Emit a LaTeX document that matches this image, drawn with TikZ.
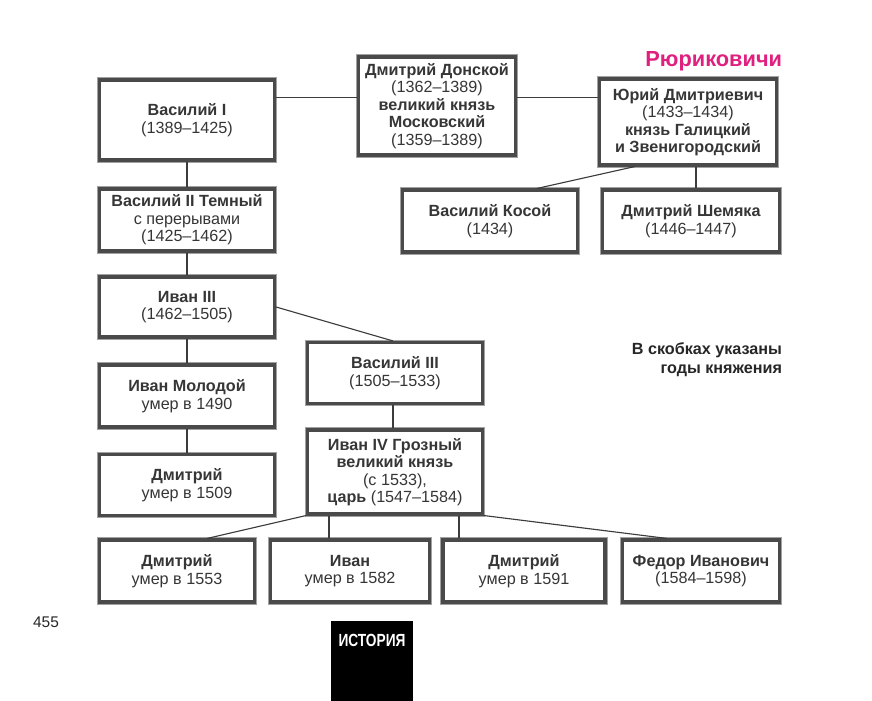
\documentclass[tikz,border=0pt]{standalone}
\usepackage{fontspec}
\setmainfont{Liberation Sans}
\usepackage{xcolor}
\usepackage{tikz}
\usetikzlibrary{arrows.meta,positioning,calc}
\definecolor{ink}{HTML}{363636}
\definecolor{frame}{HTML}{4A4A4A}
\definecolor{rim}{HTML}{A2A2A2}
\definecolor{link}{HTML}{3C3C3C}
\definecolor{ruri}{HTML}{E0207F}
\tikzset{
  princebox/.style={
    rectangle, draw=frame, line width=2.2pt, fill=white,
    preaction={draw=rim, line width=3.6pt},
    minimum width=#1, minimum height=1.55cm,
    font=\fontsize{11.5}{12.4}\selectfont, text=ink, align=center,
    inner sep=2pt
  },
  princebox/.default=4.375cm,
  linkline/.style={
    line width=0.8pt, color=link
  },
  titlenode/.style={
    font=\fontsize{15.5}{18}\selectfont\bfseries, text=ruri
  },
  notenode/.style={
    font=\fontsize{11.5}{13}\selectfont\bfseries, text=black!85, align=right
  },
  logobox/.style={
    rectangle, fill=black, minimum width=2.05cm, minimum height=2.0cm,
    inner sep=0pt
  },
}

\begin{document}
\begin{tikzpicture}[x=0.025cm, y=-0.025cm]
  \useasboundingbox (0,0) rectangle (872,701);

  % -- top row --
  \node[princebox, minimum height=2.0cm] (v1) at (187,120)
    {\textbf{Василий I}\\(1389--1425)};
  \node[princebox=3.925cm, minimum height=2.45cm] (dd) at (437,106)
    {\textbf{Дмитрий Донской}\\(1362--1389)\\\textbf{великий князь}\\\textbf{Московский}\\(1359--1389)};
  \node[princebox=4.425cm, minimum height=2.15cm] (yu) at (688,122)
    {\textbf{Юрий Дмитриевич}\\(1433--1434)\\\textbf{князь Галицкий}\\\textbf{и Звенигородский}};
  \node[titlenode, anchor=east] (title) at (787,61) {Рюриковичи};

  % -- second row --
  \node[princebox] (v2) at (187,220)
    {\textbf{Василий II Темный}\\с перерывами\\(1425--1462)};
  \node[princebox] (vk) at (490,221)
    {\textbf{Василий Косой}\\(1434)};
  \node[princebox=4.425cm] (ds) at (691,221)
    {\textbf{Дмитрий Шемяка}\\(1446--1447)};

  % -- left column and middle --
  \node[princebox, minimum height=1.5cm] (i3) at (187,307)
    {\textbf{Иван III}\\(1462--1505)};
  \node[princebox, minimum height=1.525cm] (v3) at (395,373)
    {\textbf{Василий III}\\(1505--1533)};
  \node[princebox] (im) at (187,396)
    {\textbf{Иван Молодой}\\умер в 1490};
  \node[princebox, minimum height=1.525cm] (dm) at (187,485)
    {\textbf{Дмитрий}\\умер в 1509};
  \node[princebox, minimum height=2.1cm] (i4) at (395,472)
    {\textbf{Иван IV Грозный}\\\textbf{великий князь}\\(с 1533),\\\textbf{царь} (1547--1584)};
  \node[notenode, anchor=north east] (note) at (787,338)
    {В скобках указаны\\годы княжения};

  % -- bottom row --
  \node[princebox=3.875cm] (c1) at (177,571)
    {\textbf{Дмитрий}\\умер в 1553};
  \node[princebox=3.975cm] (c2) at (350,571)
    {\textbf{Иван}\\умер в 1582};
  \node[princebox=4.05cm] (c3) at (524,571)
    {\textbf{Дмитрий}\\умер в 1591};
  \node[princebox=3.925cm] (c4) at (701,571)
    {\textbf{Федор Иванович}\\(1584--1598)};

  % -- page marks --
  \node[font=\fontsize{11}{13}\selectfont, text=black!85] (page) at (46,622) {455};
  \node[logobox, anchor=north west] (logo) at (331,621) {};
  \node[font=\fontsize{12.5}{14}\selectfont\bfseries, text=white] (logotxt) at (372,640)
    {\scalebox{0.78}[1]{ИСТОРИЯ}};

  % -- links --
  \draw[linkline] ([yshift=0.22cm]dd.west) -- ([yshift=0.22cm]dd.west -| v1.east);
  \draw[linkline] ([yshift=0.22cm]dd.east) -- ([yshift=0.22cm]dd.east -| yu.west);
  \draw[linkline] (v1.south) -- (v2.north);
  \draw[linkline] ([xshift=-1.33cm]yu.south) -- ([xshift=1.175cm]vk.north);
  \draw[linkline] ([xshift=0.2cm]yu.south) -- ([xshift=0.2cm]yu.south |- ds.north);
  \draw[linkline] (v2.south) -- (i3.north);
  \draw[linkline] (i3.east) -- ([xshift=-0.05cm]v3.north);
  \draw[linkline] (i3.south) -- (im.north);
  \draw[linkline] (im.south) -- (dm.north);
  \draw[linkline] ([xshift=-0.05cm]v3.south) -- ([xshift=-0.05cm]i4.north);
  \draw[linkline] (i4.south west) -- ([xshift=0.75cm]c1.north);
  \draw[linkline] ([xshift=-0.525cm]c2.north) -- ([xshift=-0.525cm]c2.north |- i4.south);
  \draw[linkline] ([xshift=-1.625cm]c3.north) -- ([xshift=-1.625cm]c3.north |- i4.south);
  \draw[linkline] (i4.south east) -- ([xshift=-0.85cm]c4.north);
\end{tikzpicture}
\end{document}
